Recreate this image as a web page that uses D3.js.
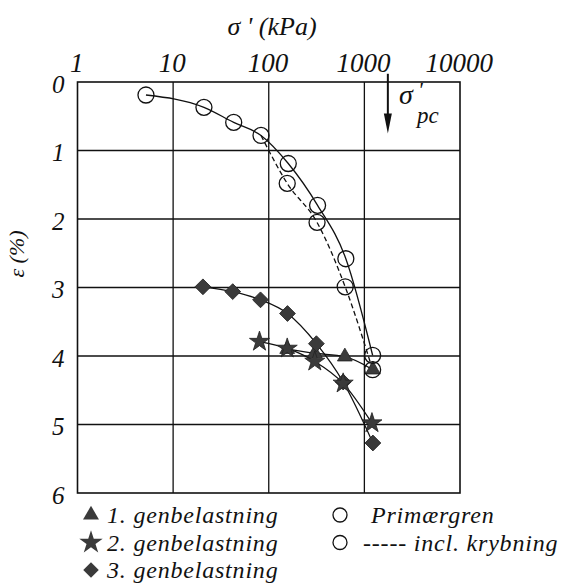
<!DOCTYPE html>
<html>
<head>
<meta charset="utf-8">
<script src="https://cdn.jsdelivr.net/npm/d3@7"></script>
<style>
  body { margin: 0; background: #fff; }
  svg text { font-family: "Liberation Serif", "DejaVu Serif", serif; font-style: italic; fill: #111; }
</style>
</head>
<body>
<svg id="chart"></svg>
<script>
// tick values
var xTicks = [1, 10, 100, 1000, 10000]
var yTicks = [0, 1, 2, 3, 4, 5, 6]

// primary branch (solid) and incl. creep (dashed)
var primStress = [5.2, 21, 43, 83, 160, 324, 640, 1220]
var primStrain = [0.19, 0.37, 0.59, 0.78, 1.19, 1.80, 2.58, 3.99]
var creepStress = [83, 156, 320, 630, 1220]
var creepStrain = [0.78, 1.48, 2.05, 2.99, 4.2]

// reloadings
var reload1Stress = [156, 303, 625, 1228]
var reload1Strain = [3.90, 3.96, 4.01, 4.20]
var reload2Stress = [80, 156, 303, 600, 1200]
var reload2Strain = [3.79, 3.89, 4.08, 4.40, 4.98]
var reload3Stress = [20.5, 42, 82, 157, 315, 600, 1228]
var reload3Strain = [2.99, 3.06, 3.18, 3.38, 3.82, 4.38, 5.27]

// preconsolidation stress arrow
var pcStress = 1760
var pcStrain = [-0.12, 0.75]

var legend1 = ["1. genbelastning", "2. genbelastning", "3. genbelastning"]
var legend2 = ["Primærgren", "----- incl. krybning"]

var width = 573, height = 585
var svg = d3.select("#chart").attr("width", width).attr("height", height)
svg.append("rect").attr("width", width).attr("height", height).attr("fill", "#fff")

var x = d3.scaleLog().domain([1, 10000]).range([77.5, 460])
var y = d3.scaleLinear().domain([0, 6]).range([82, 493])

var zip = (xs, ys) => xs.map((v, i) => [v, ys[i]])
var markFill = "#3a3a3a"

// grid
svg.append("g")
   .selectAll("line")
   .data(xTicks.slice(1, -1))
   .join("line")
   .attr("x1", d => x(d)).attr("x2", d => x(d))
   .attr("y1", y(0)).attr("y2", y(6))
   .attr("stroke", "#111").attr("stroke-width", 1.3)
svg.append("g")
   .selectAll("line")
   .data(yTicks.slice(1, -1))
   .join("line")
   .attr("x1", x(1)).attr("x2", x(10000))
   .attr("y1", d => y(d)).attr("y2", d => y(d))
   .attr("stroke", "#111").attr("stroke-width", 1.3)
svg.append("rect")
   .attr("x", x(1)).attr("y", y(0))
   .attr("width", x(10000) - x(1)).attr("height", y(6) - y(0))
   .attr("fill", "none").attr("stroke", "#111").attr("stroke-width", 1.6)

// axes (labels only)
var xAxis = svg.append("g")
   .attr("transform", `translate(0,${y(0)})`)
   .call(d3.axisTop(x).tickValues(xTicks).tickFormat(d3.format("d")).tickSize(0).tickPadding(10))
xAxis.select(".domain").remove()
xAxis.selectAll("text").attr("font-size", 27).attr("font-family", null).attr("dx", "-0.05em")

var yAxis = svg.append("g")
   .attr("transform", `translate(${x(1)},0)`)
   .call(d3.axisLeft(y).tickValues(yTicks).tickFormat(d3.format("d")).tickSize(0).tickPadding(13))
yAxis.select(".domain").remove()
yAxis.selectAll("text").attr("font-size", 25).attr("font-family", null).attr("dy", "0.4em")

svg.append("text")
   .attr("x", 272).attr("y", 35)
   .attr("text-anchor", "middle").attr("font-size", 26)
   .text("σ ' (kPa)")

svg.append("text")
   .attr("transform", "translate(24,254) rotate(-90)")
   .attr("text-anchor", "middle").attr("font-size", 22)
   .text("ε (%)")

// lines
var line = d3.line().x(d => x(d[0])).y(d => y(d[1])).curve(d3.curveMonotoneX)
var series = [
    {pts: zip(primStress, primStrain), dash: null},
    {pts: zip(creepStress, creepStrain), dash: "5,3"},
    {pts: zip(reload1Stress, reload1Strain), dash: null},
    {pts: zip(reload2Stress, reload2Strain), dash: null},
    {pts: zip(reload3Stress, reload3Strain), dash: null}
]
svg.append("g")
   .selectAll("path")
   .data(series)
   .join("path")
   .attr("d", d => line(d.pts))
   .attr("fill", "none")
   .attr("stroke", "#111")
   .attr("stroke-width", 1.3)
   .attr("stroke-dasharray", d => d.dash)

// markers
function drawMarks(pts, type, size, rot){
    svg.append("g")
       .selectAll("path")
       .data(pts)
       .join("path")
       .attr("d", d3.symbol().type(type).size(size))
       .attr("transform", d => `translate(${x(d[0])},${y(d[1])}) rotate(${rot})`)
       .attr("fill", markFill)
       .attr("stroke", "#222")
       .attr("stroke-width", 0.8)
}
drawMarks(zip(reload1Stress, reload1Strain), d3.symbolTriangle, 95, 0)
drawMarks(zip(reload3Stress, reload3Strain), d3.symbolSquare, 125, 45)
drawMarks(zip(reload2Stress, reload2Strain), d3.symbolStar, 125, 0)

svg.append("g")
   .selectAll("circle")
   .data(zip(primStress, primStrain).concat(zip(creepStress, creepStrain).slice(1)))
   .join("circle")
   .attr("cx", d => x(d[0])).attr("cy", d => y(d[1]))
   .attr("r", 8)
   .attr("fill", "none").attr("stroke", "#111").attr("stroke-width", 1.3)

// sigma'pc arrow
svg.append("line")
   .attr("x1", x(pcStress)).attr("x2", x(pcStress))
   .attr("y1", y(pcStrain[0])).attr("y2", y(pcStrain[1]) - 18)
   .attr("stroke", "#111").attr("stroke-width", 2)
svg.append("path")
   .attr("d", `M${x(pcStress) - 4},${y(pcStrain[1]) - 20} L${x(pcStress) + 4},${y(pcStrain[1]) - 20} L${x(pcStress)},${y(pcStrain[1])} Z`)
   .attr("fill", "#111")
svg.append("text").attr("x", 399).attr("y", 104).attr("font-size", 28).text("σ")
svg.append("text").attr("x", 418).attr("y", 97).attr("font-size", 22).text("'")
svg.append("text").attr("x", 417).attr("y", 123).attr("font-size", 23).text("pc")

// legend
var leg = svg.append("g")
legend1.forEach((t, i) => {
    var ly = 523 + i * 27.5
    var types = [d3.symbolTriangle, d3.symbolStar, d3.symbolSquare]
    var sizes = [110, 170, 120]
    leg.append("path")
       .attr("d", d3.symbol().type(types[i]).size(sizes[i]))
       .attr("transform", `translate(91,${ly - 8}) rotate(${i == 2 ? 45 : 0})`)
       .attr("fill", markFill)
    leg.append("text").attr("x", 107).attr("y", ly).attr("font-size", 24)
       .attr("letter-spacing", 0.8).text(t)
})
legend2.forEach((t, i) => {
    var ly = 523 + i * 27.5
    leg.append("circle").attr("cx", 340).attr("cy", ly - 8).attr("r", 7)
       .attr("fill", "none").attr("stroke", "#111").attr("stroke-width", 1.3)
    leg.append("text").attr("x", i == 0 ? 371 : 363).attr("y", ly).attr("font-size", 24)
       .attr("letter-spacing", 0.8).text(t)
})
</script>
</body>
</html>
